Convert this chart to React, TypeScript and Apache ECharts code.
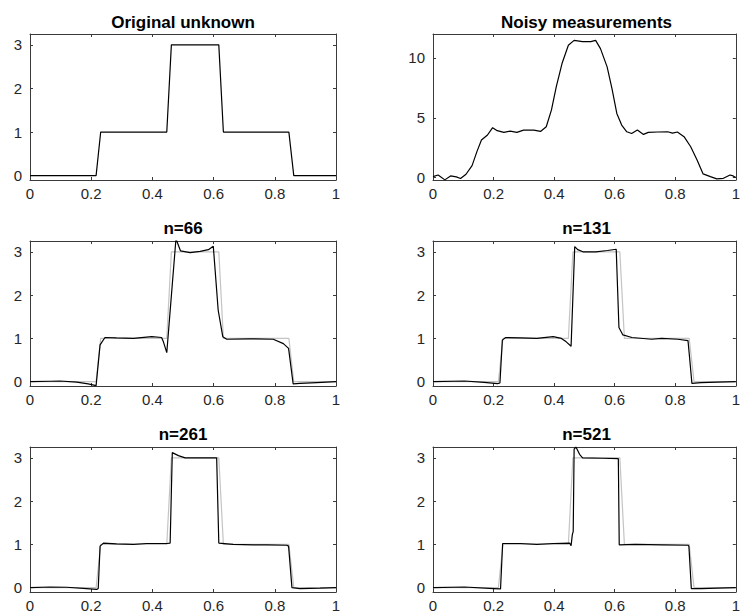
import React, { useEffect, useRef } from "react";
import * as echarts from "echarts";

// ---- data ----
const xTicks = [0, 0.2, 0.4, 0.6, 0.8, 1];
const stepTicks = [0, 1, 2, 3];
const noisyTicks = [0, 5, 10];

const titles = ["Original unknown", "Noisy measurements", "n=66", "n=131", "n=261", "n=521"];

const origX = [0, 0.216, 0.231, 0.447, 0.462, 0.617, 0.632, 0.846, 0.862, 1];
const origY = [0, 0, 1, 1, 3, 3, 1, 1, 0, 0];

const noisyX = [0, 0.017, 0.039, 0.058, 0.077, 0.091, 0.109, 0.129, 0.145, 0.16, 0.18, 0.197, 0.212, 0.234, 0.255, 0.277, 0.299, 0.333, 0.355, 0.374, 0.391, 0.407, 0.426, 0.447, 0.466, 0.494, 0.521, 0.537, 0.553, 0.575, 0.591, 0.607, 0.623, 0.64, 0.656, 0.675, 0.695, 0.711, 0.742, 0.775, 0.791, 0.807, 0.829, 0.851, 0.872, 0.892, 0.916, 0.937, 0.959, 0.981, 0.991, 1];
const noisyY = [0.08, 0.22, -0.19, 0.14, 0.06, -0.08, 0.28, 1.0, 2.17, 3.14, 3.56, 4.17, 3.92, 3.78, 3.89, 3.78, 3.97, 3.97, 3.86, 4.25, 5.64, 7.58, 9.53, 11.06, 11.47, 11.36, 11.36, 11.47, 10.78, 9.25, 7.44, 5.36, 4.39, 3.83, 3.69, 3.97, 3.61, 3.78, 3.81, 3.83, 3.72, 3.81, 3.42, 2.58, 1.47, 0.31, 0.08, -0.11, -0.06, 0.22, 0.14, 0];

const n66X = [0, 0.065, 0.098, 0.153, 0.19, 0.216, 0.229, 0.245, 0.283, 0.338, 0.398, 0.43, 0.436, 0.447, 0.477, 0.492, 0.523, 0.556, 0.583, 0.599, 0.615, 0.63, 0.643, 0.719, 0.795, 0.828, 0.845, 0.86, 0.882, 0.937, 1];
const n66Y = [0, 0.01, 0.015, -0.01, -0.05, -0.09, 0.85, 1.02, 1.01, 1.0, 1.04, 1.02, 0.92, 0.67, 3.3, 3.02, 2.98, 3.01, 3.05, 3.13, 1.65, 1.04, 0.98, 0.99, 0.98, 0.88, 0.77, -0.05, -0.04, -0.02, 0];

const n131X = [0, 0.104, 0.169, 0.213, 0.221, 0.229, 0.24, 0.289, 0.343, 0.397, 0.424, 0.44, 0.456, 0.468, 0.478, 0.495, 0.538, 0.576, 0.605, 0.614, 0.627, 0.657, 0.722, 0.755, 0.809, 0.842, 0.848, 0.855, 0.885, 0.939, 1];
const n131Y = [0, 0.015, -0.015, -0.045, -0.03, 0.96, 1.02, 1.01, 1.0, 1.04, 1.0, 0.92, 0.82, 3.12, 3.05, 3.0, 3.0, 3.03, 3.06, 1.25, 1.08, 1.02, 0.98, 1.0, 0.98, 0.95, 0.5, -0.04, -0.02, -0.01, 0];

const n261X = [0, 0.065, 0.12, 0.185, 0.218, 0.223, 0.229, 0.24, 0.283, 0.338, 0.381, 0.447, 0.458, 0.465, 0.485, 0.507, 0.556, 0.61, 0.617, 0.664, 0.73, 0.773, 0.839, 0.845, 0.856, 0.882, 0.948, 1];
const n261Y = [0, 0.015, 0.01, -0.02, -0.04, -0.02, 0.96, 1.03, 1.01, 1.0, 1.02, 1.02, 1.03, 3.12, 3.05, 3.0, 3.0, 3.0, 1.03, 1.0, 0.99, 0.99, 0.98, 0.96, 0, -0.02, -0.01, 0];

const n521X = [0, 0.104, 0.2, 0.223, 0.23, 0.289, 0.343, 0.397, 0.451, 0.456, 0.46, 0.463, 0.466, 0.472, 0.484, 0.494, 0.56, 0.612, 0.615, 0.668, 0.755, 0.842, 0.845, 0.853, 0.885, 0.939, 1];
const n521Y = [0, 0.015, -0.02, -0.03, 1.02, 1.02, 1.0, 1.02, 1.03, 0.97, 1.22, 1.3, 3.2, 3.25, 3.08, 3.0, 2.99, 2.98, 0.99, 1.0, 0.99, 0.98, 0.96, -0.02, -0.02, -0.01, 0];

const zip = (xs: number[], ys: number[]) => xs.map((x, i) => [x, ys[i]]);

export default function App() {
  const ref = useRef<HTMLDivElement>(null);
  useEffect(() => {
    if (!ref.current) return;
    const chart = echarts.init(ref.current, undefined, { renderer: "svg" });
    const font = "'Liberation Sans', Arial, Helvetica, sans-serif";
    const axisColor = "#3a3a3a";
    const labelColor = "#262626";

    const grids = [
      { left: 30, top: 34, width: 306, height: 146 },
      { left: 433, top: 34, width: 307, height: 146 },
      { left: 30, top: 241, width: 306, height: 145 },
      { left: 433, top: 241, width: 307, height: 145 },
      { left: 30, top: 447, width: 306, height: 145 },
      { left: 433, top: 447, width: 307, height: 145 },
    ];
    const titleBase = [28.3, 28.3, 234, 234, 440, 440];

    const xAxis: any[] = [];
    const yAxis: any[] = [];
    grids.forEach((g, i) => {
      const isNoisy = i === 1;
      const yMin = isNoisy ? -0.2 : -0.1;
      const yMax = isNoisy ? 12 : 3.25;
      const yT = isNoisy ? noisyTicks : stepTicks;
      ["bottom", "top"].forEach((pos) => {
        xAxis.push({
          gridIndex: i,
          type: "value",
          position: pos,
          min: 0,
          max: 1,
          interval: 0.2,
          axisLine: { show: true, onZero: false, lineStyle: { color: axisColor, width: 1 } },
          axisTick: { show: true, inside: true, length: 3, lineStyle: { color: axisColor } },
          axisLabel: {
            show: pos === "bottom",
            fontSize: 15,
            color: labelColor,
            fontFamily: font,
            margin: 6,
            customValues: xTicks,
          },
          splitLine: { show: false },
        });
      });
      ["left", "right"].forEach((pos) => {
        yAxis.push({
          gridIndex: i,
          type: "value",
          position: pos,
          min: yMin,
          max: yMax,
          axisLine: { show: true, onZero: false, lineStyle: { color: axisColor, width: 1 } },
          axisTick: { show: true, inside: true, length: 3, customValues: yT, lineStyle: { color: axisColor } },
          axisLabel: {
            show: pos === "left",
            fontSize: 15,
            color: labelColor,
            fontFamily: font,
            margin: 8,
            customValues: yT,
          },
          splitLine: { show: false },
        });
      });
    });

    const black = (data: number[][], i: number) => ({
      type: "line",
      data,
      xAxisIndex: 2 * i,
      yAxisIndex: 2 * i,
      showSymbol: false,
      symbol: "none",
      clip: true,
      lineStyle: { color: "#000", width: 1.2 },
      z: 3,
    });
    const gray = (i: number) => ({
      type: "line",
      data: zip(origX, origY),
      xAxisIndex: 2 * i,
      yAxisIndex: 2 * i,
      showSymbol: false,
      symbol: "none",
      clip: true,
      lineStyle: { color: "#c4c4c4", width: 1.2 },
      z: 2,
    });

    const series: any[] = [
      black(zip(origX, origY), 0),
      black(zip(noisyX, noisyY), 1),
      gray(2),
      black(zip(n66X, n66Y), 2),
      gray(3),
      black(zip(n131X, n131Y), 3),
      gray(4),
      black(zip(n261X, n261Y), 4),
      gray(5),
      black(zip(n521X, n521Y), 5),
    ];

    const graphic = titles.map((t, i) => ({
      type: "text",
      x: grids[i].left + grids[i].width / 2,
      y: titleBase[i] - 6,
      style: {
        text: t,
        fontSize: 17,
        fontWeight: "bold",
        fontFamily: font,
        fill: "#000",
        textAlign: "center",
        textVerticalAlign: "middle",
      },
    }));

    chart.setOption({
      animation: false,
      backgroundColor: "#fff",
      grid: grids.map((g) => ({ ...g, containLabel: false })),
      xAxis,
      yAxis,
      series,
      graphic,
    });
    return () => chart.dispose();
  }, []);
  return (
    <div
      ref={ref}
      style={{ position: "fixed", left: 0, top: 0, width: 743, height: 616, background: "#fff" }}
    />
  );
}
